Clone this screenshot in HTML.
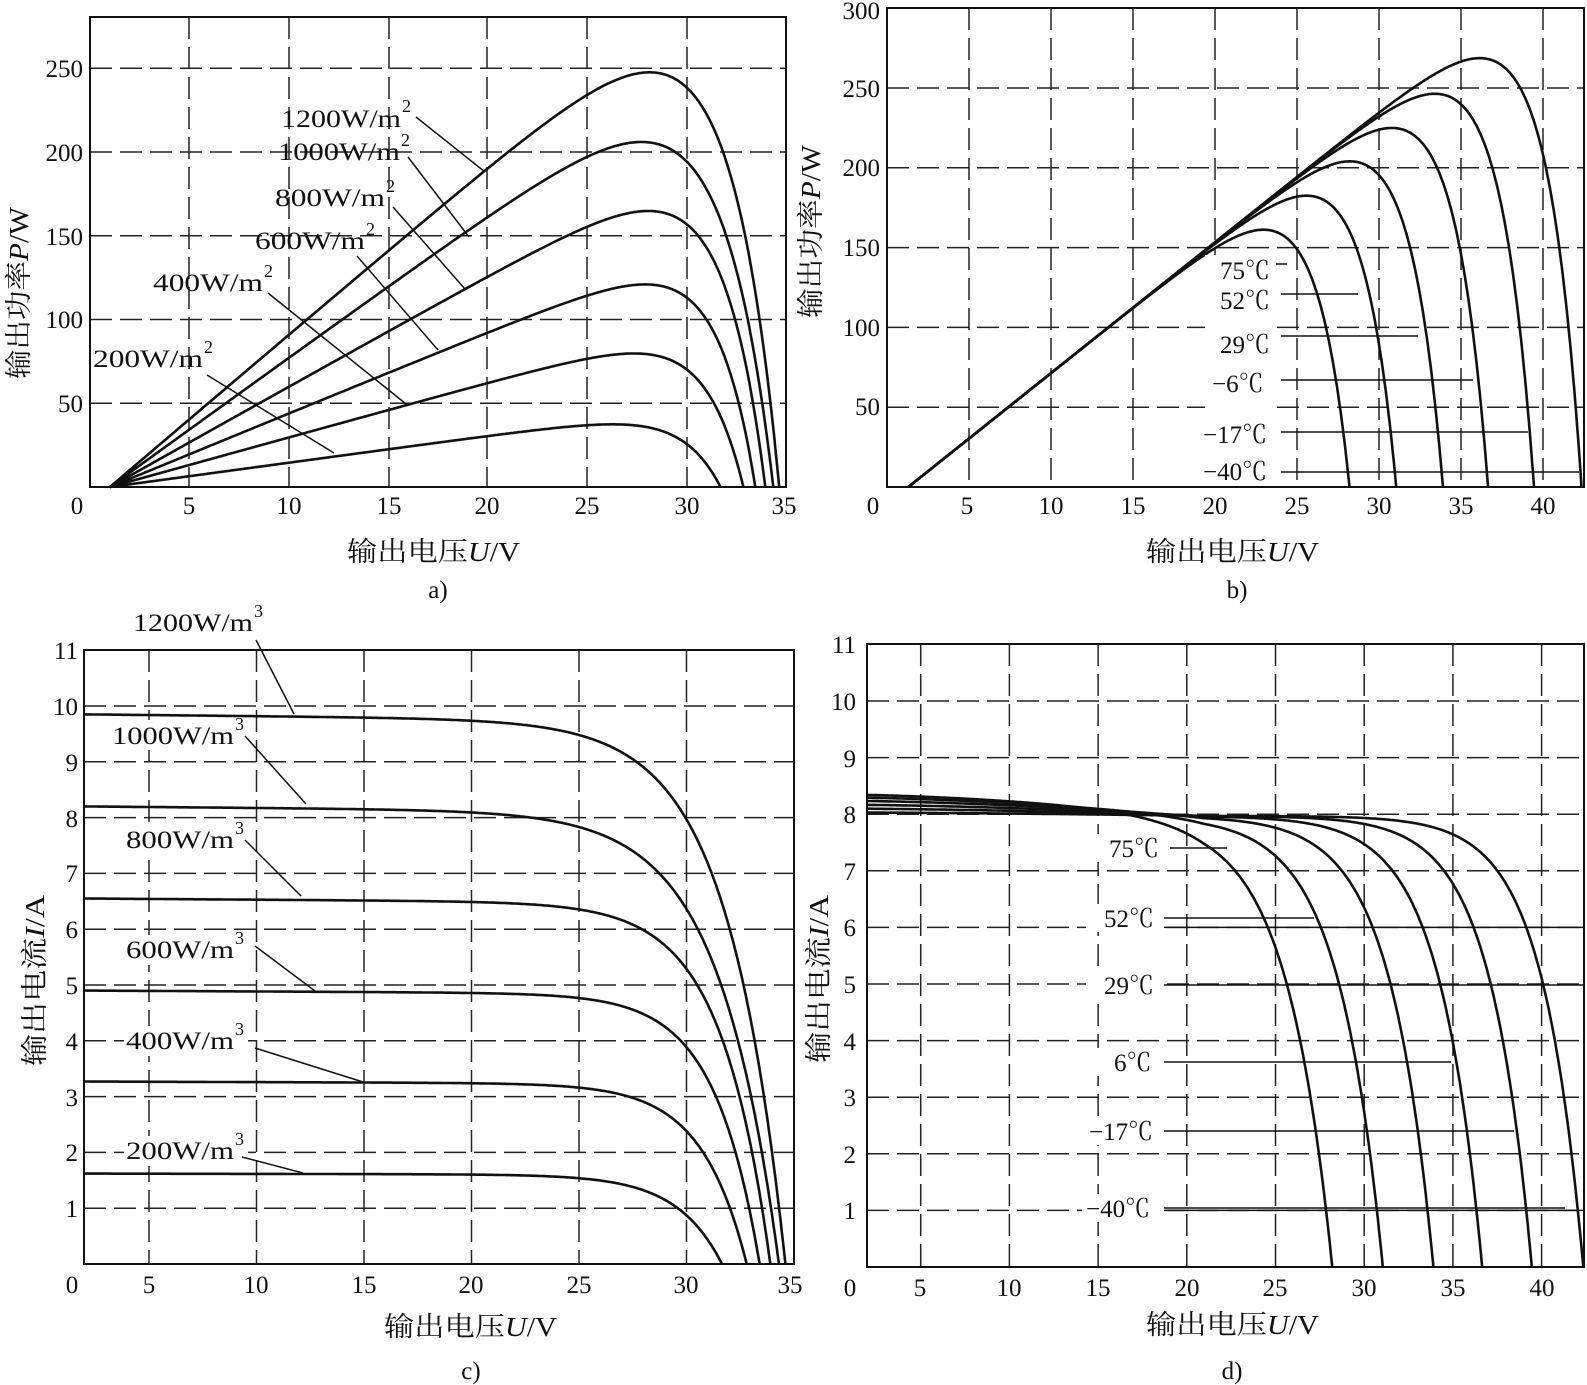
<!DOCTYPE html>
<html><head><meta charset="utf-8"><style>
html,body{margin:0;padding:0;background:#fff;}
svg{display:block;}
text{font-family:"Liberation Serif","Noto Serif CJK SC","Noto Sans CJK SC",serif;fill:#111;}
.t{font-size:25px;}
.ti{font-size:27px;}
.g{stroke:#222;stroke-width:1.5;stroke-dasharray:22,8;fill:none;}
.box{stroke:#111;stroke-width:2;fill:none;}
.c{stroke:#111;stroke-width:2.6;fill:none;stroke-linejoin:round;}
.l{stroke:#111;stroke-width:1.5;fill:none;}
</style></head><body>
<svg id="s" width="1587" height="1385" viewBox="0 0 1587 1385" xmlns="http://www.w3.org/2000/svg">
<rect width="1587" height="1385" fill="#fff"/>
<g class="g">
<path d="M189,17V487M289,17V487M389,17V487M487,17V487M587,17V487M687,17V487"/>
<path d="M90,403.3H786M90,319.5H786M90,235.8H786M90,152H786M90,68.3H786"/>
</g>
<g class="g">
<path d="M969,8V487M1051,8V487M1133,8V487M1215,8V487M1297,8V487M1379,8V487M1461,8V487M1543,8V487"/>
<path d="M887,407.2H1584M887,327.4H1584M887,247.6H1584M887,167.8H1584M887,88H1584"/>
</g>
<g class="g">
<path d="M149,650V1264M256.5,650V1264M364,650V1264M471.5,650V1264M579,650V1264M686.5,650V1264"/>
<path d="M84,1208.2H794M84,1152.4H794M84,1096.6H794M84,1040.8H794M84,985H794M84,929.2H794M84,873.4H794M84,817.6H794M84,761.8H794M84,706H794"/>
</g>
<g class="g">
<path d="M920.7,644V1267M1009.4,644V1267M1098.1,644V1267M1186.8,644V1267M1275.5,644V1267M1364.2,644V1267M1452.9,644V1267M1541.6,644V1267"/>
<path d="M867,1210.4H1584M867,1153.8H1584M867,1097.2H1584M867,1040.6H1584M867,984H1584M867,927.4H1584M867,870.8H1584M867,814.2H1584M867,757.6H1584M867,701H1584"/>
</g>
<rect class="box" x="90" y="17" width="696" height="470"/>
<rect class="box" x="887" y="8" width="697" height="479"/>
<rect class="box" x="84" y="650" width="710" height="614"/>
<rect class="box" x="867" y="644" width="717" height="623"/>
<g id="curves"></g>

<g class="t">
<text x="83" y="412" text-anchor="end">50</text>
<text x="83" y="328" text-anchor="end">100</text>
<text x="83" y="245" text-anchor="end">150</text>
<text x="83" y="161" text-anchor="end">200</text>
<text x="83" y="77" text-anchor="end">250</text>
<text x="77" y="514" text-anchor="middle">0</text>
<text x="189" y="514" text-anchor="middle">5</text>
<text x="289" y="514" text-anchor="middle">10</text>
<text x="389" y="514" text-anchor="middle">15</text>
<text x="487" y="514" text-anchor="middle">20</text>
<text x="587" y="514" text-anchor="middle">25</text>
<text x="687" y="514" text-anchor="middle">30</text>
<text x="784" y="514" text-anchor="middle">35</text>
</g>
<text class="ti" x="347" y="561" textLength="173" lengthAdjust="spacingAndGlyphs">输出电压<tspan font-style="italic">U</tspan>/V</text>
<text class="ti" transform="translate(28,379) rotate(-90)" textLength="172" lengthAdjust="spacingAndGlyphs">输出功率<tspan font-style="italic">P</tspan>/W</text>
<text class="t" x="438" y="598" text-anchor="middle">a)</text>
<g class="t">
<text x="281" y="127" textLength="120" lengthAdjust="spacingAndGlyphs">1200W/m</text><text x="402" y="112" font-size="18">2</text>
<text x="278" y="160" textLength="122" lengthAdjust="spacingAndGlyphs">1000W/m</text><text x="401" y="146" font-size="18">2</text>
<text x="275" y="206" textLength="110" lengthAdjust="spacingAndGlyphs">800W/m</text><text x="386" y="192" font-size="18">2</text>
<text x="255" y="249" textLength="110" lengthAdjust="spacingAndGlyphs">600W/m</text><text x="366" y="235" font-size="18">2</text>
<text x="153" y="291" textLength="110" lengthAdjust="spacingAndGlyphs">400W/m</text><text x="264" y="277" font-size="18">2</text>
<text x="93" y="367" textLength="110" lengthAdjust="spacingAndGlyphs">200W/m</text><text x="204" y="353" font-size="18">2</text>
</g>
<path class="l" d="M416,117L485,172M408,157L469,237M393,207L465,289M357,256L438,350M268,293L406,404M207,375L334,453"/>

<g class="t">
<text x="880" y="415" text-anchor="end">50</text>
<text x="880" y="336" text-anchor="end">100</text>
<text x="880" y="256" text-anchor="end">150</text>
<text x="880" y="176" text-anchor="end">200</text>
<text x="880" y="97" text-anchor="end">250</text>
<text x="880" y="19" text-anchor="end">300</text>
<text x="873" y="514" text-anchor="middle">0</text>
<text x="967" y="514" text-anchor="middle">5</text>
<text x="1051" y="514" text-anchor="middle">10</text>
<text x="1133" y="514" text-anchor="middle">15</text>
<text x="1215" y="514" text-anchor="middle">20</text>
<text x="1297" y="514" text-anchor="middle">25</text>
<text x="1379" y="514" text-anchor="middle">30</text>
<text x="1461" y="514" text-anchor="middle">35</text>
<text x="1543" y="514" text-anchor="middle">40</text>
</g>
<text class="ti" x="1146" y="561" textLength="173" lengthAdjust="spacingAndGlyphs">输出电压<tspan font-style="italic">U</tspan>/V</text>
<text class="ti" transform="translate(820,318) rotate(-90)" textLength="173" lengthAdjust="spacingAndGlyphs">输出功率<tspan font-style="italic">P</tspan>/W</text>
<text class="t" x="1237" y="598" text-anchor="middle">b)</text>
<g class="t">
<rect x="1205" y="255" width="72" height="225" fill="#fff"/>
<text x="1220" y="279">75℃</text>
<text x="1220" y="309">52℃</text>
<text x="1220" y="353">29℃</text>
<text x="1212" y="392">−6℃</text>
<text x="1203" y="443">−17℃</text>
<text x="1203" y="480">−40℃</text>
</g>
<path class="l" d="M1276,264H1287M1281,294H1358M1281,336H1418M1281,380H1473M1281,432H1528M1281,472H1579"/>

<g class="t">
<text x="78" y="1217" text-anchor="end">1</text>
<text x="78" y="1161" text-anchor="end">2</text>
<text x="78" y="1106" text-anchor="end">3</text>
<text x="78" y="1050" text-anchor="end">4</text>
<text x="78" y="994" text-anchor="end">5</text>
<text x="78" y="938" text-anchor="end">6</text>
<text x="78" y="882" text-anchor="end">7</text>
<text x="78" y="827" text-anchor="end">8</text>
<text x="78" y="771" text-anchor="end">9</text>
<text x="78" y="715" text-anchor="end">10</text>
<text x="78" y="659" text-anchor="end">11</text>
<text x="72" y="1293" text-anchor="middle">0</text>
<text x="149" y="1293" text-anchor="middle">5</text>
<text x="256" y="1293" text-anchor="middle">10</text>
<text x="364" y="1293" text-anchor="middle">15</text>
<text x="471" y="1293" text-anchor="middle">20</text>
<text x="579" y="1293" text-anchor="middle">25</text>
<text x="686" y="1293" text-anchor="middle">30</text>
<text x="790" y="1293" text-anchor="middle">35</text>
</g>
<text class="ti" x="384" y="1336" textLength="173" lengthAdjust="spacingAndGlyphs">输出电压<tspan font-style="italic">U</tspan>/V</text>
<text class="ti" transform="translate(44,1066) rotate(-90)" textLength="171" lengthAdjust="spacingAndGlyphs">输出电流<tspan font-style="italic">I</tspan>/A</text>
<text class="t" x="471" y="1379" text-anchor="middle">c)</text>
<g class="t">
<rect x="110" y="720" width="138" height="30" fill="#fff"/>
<rect x="124" y="826" width="124" height="30" fill="#fff"/>
<rect x="124" y="935" width="124" height="30" fill="#fff"/>
<rect x="124" y="1026" width="124" height="30" fill="#fff"/>
<rect x="124" y="1136" width="124" height="30" fill="#fff"/>
<text x="133" y="631" textLength="120" lengthAdjust="spacingAndGlyphs">1200W/m</text><text x="254" y="617" font-size="18">3</text>
<text x="112" y="744" textLength="122" lengthAdjust="spacingAndGlyphs">1000W/m</text><text x="235" y="730" font-size="18">3</text>
<text x="126" y="848" textLength="108" lengthAdjust="spacingAndGlyphs">800W/m</text><text x="235" y="834" font-size="18">3</text>
<text x="126" y="958" textLength="108" lengthAdjust="spacingAndGlyphs">600W/m</text><text x="235" y="944" font-size="18">3</text>
<text x="126" y="1049" textLength="108" lengthAdjust="spacingAndGlyphs">400W/m</text><text x="235" y="1035" font-size="18">3</text>
<text x="126" y="1159" textLength="108" lengthAdjust="spacingAndGlyphs">200W/m</text><text x="235" y="1145" font-size="18">3</text>
</g>
<path class="l" d="M256,640L294,714M245,736L306,804M245,840L301,896M255,946L315,991M255,1048L363,1082M242,1157L303,1173"/>

<g class="t">
<text x="856" y="1219" text-anchor="end">1</text>
<text x="856" y="1163" text-anchor="end">2</text>
<text x="856" y="1106" text-anchor="end">3</text>
<text x="856" y="1050" text-anchor="end">4</text>
<text x="856" y="993" text-anchor="end">5</text>
<text x="856" y="936" text-anchor="end">6</text>
<text x="856" y="880" text-anchor="end">7</text>
<text x="856" y="823" text-anchor="end">8</text>
<text x="856" y="767" text-anchor="end">9</text>
<text x="856" y="710" text-anchor="end">10</text>
<text x="856" y="653" text-anchor="end">11</text>
<text x="850" y="1296" text-anchor="middle">0</text>
<text x="920" y="1296" text-anchor="middle">5</text>
<text x="1009" y="1296" text-anchor="middle">10</text>
<text x="1098" y="1296" text-anchor="middle">15</text>
<text x="1187" y="1296" text-anchor="middle">20</text>
<text x="1275" y="1296" text-anchor="middle">25</text>
<text x="1364" y="1296" text-anchor="middle">30</text>
<text x="1453" y="1296" text-anchor="middle">35</text>
<text x="1542" y="1296" text-anchor="middle">40</text>
</g>
<text class="ti" x="1146" y="1334" textLength="173" lengthAdjust="spacingAndGlyphs">输出电压<tspan font-style="italic">U</tspan>/V</text>
<text class="ti" transform="translate(828,1063) rotate(-90)" textLength="168" lengthAdjust="spacingAndGlyphs">输出电流<tspan font-style="italic">I</tspan>/A</text>
<text class="t" x="1232" y="1379" text-anchor="middle">d)</text>
<g class="t">
<rect x="1086" y="834" width="78" height="28" fill="#fff"/>
<rect x="1086" y="904" width="78" height="28" fill="#fff"/>
<rect x="1086" y="971" width="78" height="28" fill="#fff"/>
<rect x="1086" y="1048" width="78" height="28" fill="#fff"/>
<rect x="1082" y="1117" width="82" height="28" fill="#fff"/>
<rect x="1082" y="1194" width="82" height="28" fill="#fff"/>
<text x="1109" y="857">75℃</text>
<text x="1104" y="927">52℃</text>
<text x="1104" y="994">29℃</text>
<text x="1114" y="1071">6℃</text>
<text x="1089" y="1140">−17℃</text>
<text x="1086" y="1217">−40℃</text>
</g>
<path class="l" d="M1170,848H1227M1164,918H1314M1164,927.4H1584M1164,985H1584M1164,985H1387M1164,1062H1451M1164,1131H1514M1164,1208H1565M1164,1210.4H1584"/>
</svg>
<script>
(function(){
var g=document.getElementById('curves');
function add(d){var p=document.createElementNS('http://www.w3.org/2000/svg','path');p.setAttribute('d',d);p.setAttribute('class','c');g.appendChild(p);}
function cur(V,Isc,Voc,a){if(V>=Voc)return 0;return Isc*(1-Math.exp((V-Voc)/a))/(1-Math.exp(-Voc/a));}
function path(v0,Voc,fx,fy){var s='';for(var V=v0;;V+=0.05){var last=false;if(V>=Voc){V=Voc;last=true;}var p=fx(V),q=fy(V);s+=(s?'L':'M')+p.toFixed(1)+','+q.toFixed(1);if(last)break;}return s;}
var irr=[[9.85,34.6,2.7,1.03],[8.2,34.3,2.8,1.05],[6.55,33.9,2.3,1.02],[4.9,33.4,2.1,1.0],[3.27,32.8,2.1,1.01],[1.62,31.65,2.1,1.0]];
irr.forEach(function(c){
 function I(V){return c[0]*(1-0.0004*Math.max(V-2,0))*(cur(V,1,c[1],c[2]));}
 add(path(1.0,c[1],function(V){return 90+V*19.92;},function(V){return 487-(V-1)*I(V)*c[3]*1.675;}));
 add(path(1.98,c[1],function(V){return 41.5+V*21.5;},function(V){return 1264-I(V)*55.8;}));
});
var tv=[28.2,31.05,33.9,36.65,39.45,42.35];
var tisc=[8.35,8.3,8.24,8.17,8.1,8.03];
var ta=[2.6,2.5,2.45,2.4,2.35,2.3];
for(var k=0;k<6;k++){(function(k){
 var Voc=tv[k];
 function Ib(V){return 8.2*cur(V,1,Voc,2.2);}
 add(path(1.3,Voc,function(V){return 887+V*16.4;},function(V){return 487-(V-1.3)*Ib(V)*1.596;}));
 function Id(V){var b=tisc[k]+(7.97-tisc[k])*Math.pow(Math.min(V/21,1),1.6);return b*cur(V,1,Voc,ta[k]);}
 add(path(1.97,Voc,function(V){return 832+V*17.74;},function(V){return 1267-Id(V)*56.6;}));
})(k);}
})();
</script>
</body></html>
